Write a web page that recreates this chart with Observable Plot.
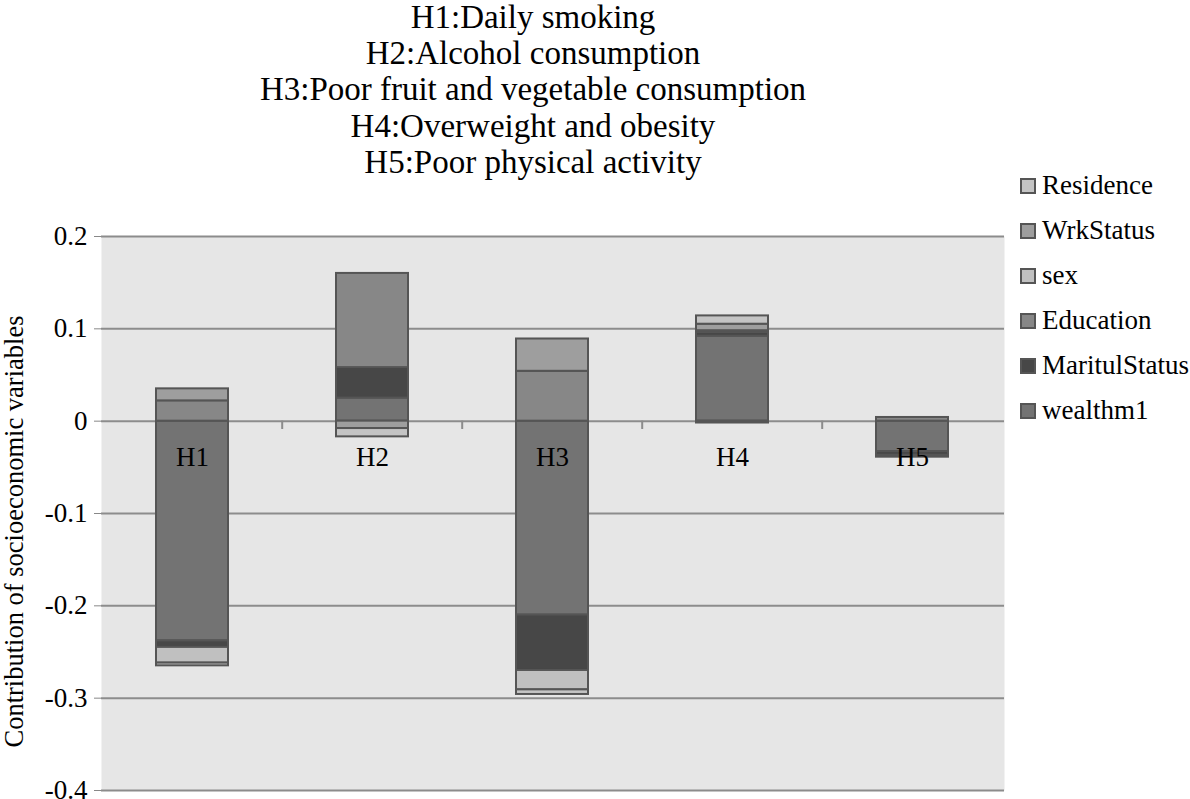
<!DOCTYPE html>
<html>
<head>
<meta charset="utf-8">
<script src="https://cdn.jsdelivr.net/npm/d3@7"></script>
<script src="https://cdn.jsdelivr.net/npm/@observablehq/plot@0.6"></script>
<style>
  html, body { margin: 0; padding: 0; background: #fff; }
  #wrap { position: relative; width: 1190px; height: 799px; overflow: hidden; font-family: 'Liberation Serif', serif; }
  #title { position: absolute; left: 0; top: -1px; width: 1066px; text-align: center; font-family: 'Liberation Serif', serif; font-size: 33px; line-height: 36.2px; color: #000; }
  #chart { position: absolute; left: 0; top: 180px; }
  #legend { position: absolute; left: 1020px; top: 163px; font-family: 'Liberation Serif', serif; font-size: 27px; color: #000; }
  #legend .row { display: flex; align-items: center; height: 45px; white-space: nowrap; font-family: 'Liberation Serif', serif; }
  #legend .sw { width: 12px; height: 12px; border: 2px solid #555; margin-right: 6px; box-sizing: content-box; }
  #chart svg, #chart svg text { font-family: 'Liberation Serif', serif !important; }
</style>
</head>
<body>
<div id="wrap">
  <div id="title"></div>
  <div id="chart"></div>
  <div id="legend"></div>
</div>
<script>
const titleLines = [
  "H1:Daily smoking",
  "H2:Alcohol consumption",
  "H3:Poor fruit and vegetable consumption",
  "H4:Overweight and obesity",
  "H5:Poor physical activity"
];
const categories = ["H1", "H2", "H3", "H4", "H5"];
// stacking order (first = nearest zero)
const series = ["wealthm1", "MaritulStatus", "Education", "sex", "WrkStatus", "Residence"];
const wealthm1      = [-0.238, 0.025, -0.210, 0.092, -0.033];
const MaritulStatus = [-0.007, 0.033, -0.060, 0.004, -0.004];
const Education     = [ 0.022, 0.102,  0.054, 0.002,  0.004];
const sex           = [-0.017, 0.000, -0.021, -0.002, -0.002];
const WrkStatus     = [ 0.013, -0.008, 0.035, 0.007,  0.000];
const Residence     = [-0.003, -0.009, -0.005, 0.009, 0.000];
const legendOrder = ["Residence", "WrkStatus", "sex", "Education", "MaritulStatus", "wealthm1"];
const colors = ["#737373", "#474747", "#878787", "#c0c0c0", "#9e9e9e", "#c4c4c4"];
const yTicks = [-0.4, -0.3, -0.2, -0.1, 0, 0.1, 0.2];
const yLabel = "Contribution of socioeconomic variables";

const valuesBySeries = { wealthm1, MaritulStatus, Education, sex, WrkStatus, Residence };
const data = [];
series.forEach(s => categories.forEach((c, i) => {
  const v = valuesBySeries[s][i];
  if (v !== 0) data.push({ cat: c, series: s, value: v });
}));

document.getElementById("title").innerHTML = titleLines.map(t => `<div>${t}</div>`).join("");

const colorOf = Object.fromEntries(series.map((s, i) => [s, colors[i]]));
document.getElementById("legend").innerHTML = legendOrder.map(s =>
  `<div class="row"><span class="sw" style="background:${colorOf[s]}"></span><span>${s}</span></div>`
).join("");

const FF = "'Liberation Serif', serif";
const W = 1190, H = 619, mL = 101, mR = 186, mT = 56, mB = 9;
const step = (W - mL - mR) / categories.length;

const chart = Plot.plot({
  width: W,
  height: H,
  marginLeft: mL,
  marginRight: mR,
  marginTop: mT,
  marginBottom: mB,
  style: { fontFamily: FF, fontSize: "26px", background: "#fff", color: "#000", overflow: "visible" },
  x: { domain: categories, paddingInner: 0.6, paddingOuter: 0.3, axis: null },
  y: { domain: [-0.4, 0.2], axis: null },
  color: { domain: series, range: colors },
  marks: [
    Plot.frame({ fill: "#e6e6e6", stroke: null }),
    Plot.gridY(yTicks, { stroke: "#8c8c8c", strokeOpacity: 1, strokeWidth: 2 }),
    Plot.axisY(yTicks, { tickFormat: d => String(+d.toFixed(1)), tickSize: 7, tickPadding: 7, stroke: "#888", fontSize: 27, fontFamily: FF, label: null }),
    Plot.ruleX(categories.slice(1), { x: d => d, y1: 0, y2: -0.009, dx: -step / 2, stroke: "#8c8c8c", strokeWidth: 2 }),
    Plot.barY(data, Plot.stackY({ x: "cat", y: "value", z: "series", fill: "series", order: series, stroke: "#555", strokeWidth: 2 })),
    Plot.text(categories, { x: d => d, y: 0, dy: 36, text: d => d, fontSize: 27, fontFamily: FF, fill: "#000" }),
    Plot.text([yLabel], { frameAnchor: "left", textAnchor: "middle", rotate: -90, dx: -87, dy: 18, text: d => d, fontSize: 26.5, fontFamily: FF, fill: "#000" })
  ]
});
document.getElementById("chart").appendChild(chart);
</script>
</body>
</html>
